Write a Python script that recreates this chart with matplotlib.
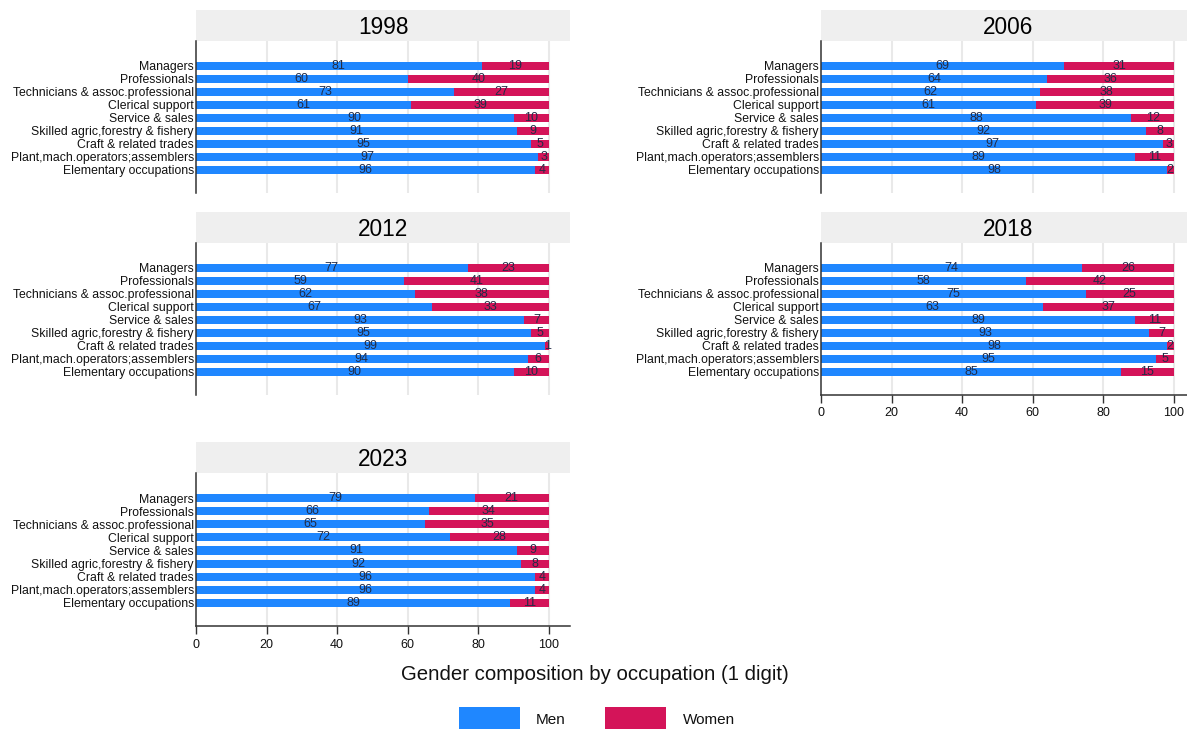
import matplotlib
matplotlib.use("Agg")
import matplotlib.pyplot as plt
from matplotlib.patches import Rectangle
import numpy as np

plt.rcParams['font.family'] = ['Liberation Sans', 'DejaVu Sans']

occupations = [
    "Managers",
    "Professionals",
    "Technicians & assoc.professional",
    "Clerical support",
    "Service & sales",
    "Skilled agric,forestry & fishery",
    "Craft & related trades",
    "Plant,mach.operators;assemblers",
    "Elementary occupations",
]

years = ["1998", "2006", "2012", "2018", "2023"]

men_1998 = [81, 60, 73, 61, 90, 91, 95, 97, 96]
women_1998 = [19, 40, 27, 39, 10, 9, 5, 3, 4]
men_2006 = [69, 64, 62, 61, 88, 92, 97, 89, 98]
women_2006 = [31, 36, 38, 39, 12, 8, 3, 11, 2]
men_2012 = [77, 59, 62, 67, 93, 95, 99, 94, 90]
women_2012 = [23, 41, 38, 33, 7, 5, 1, 6, 10]
men_2018 = [74, 58, 75, 63, 89, 93, 98, 95, 85]
women_2018 = [26, 42, 25, 37, 11, 7, 2, 5, 15]
men_2023 = [79, 66, 65, 72, 91, 92, 96, 96, 89]
women_2023 = [21, 34, 35, 28, 9, 8, 4, 4, 11]

men = [men_1998, men_2006, men_2012, men_2018, men_2023]
women = [women_1998, women_2006, women_2012, women_2018, women_2023]

x_ticks = [0, 20, 40, 60, 80, 100]

MEN_COLOR = "#1f87ff"
WOMEN_COLOR = "#d41459"
LABEL_COLOR = "#222c47"
STRIP_COLOR = "#efefef"
GRID_COLOR = "#e9e9e9"
TEXT_COLOR = "#111111"

W, H = 1187, 729
fig = plt.figure(figsize=(W / 100, H / 100), dpi=100)


def fig_rect(x0, y0, x1, y1):
    """Pixel box (top-left origin) to figure fraction [left, bottom, width, height]."""
    return [x0 / W, 1 - y1 / H, (x1 - x0) / W, (y1 - y0) / H]


# panel grid: column x-starts and (strip top, strip bottom, plot bottom) per row
col_x = [196, 821]
panel_w = 374
rows = [(10, 41, 193), (212, 243, 395), (442, 473, 626)]
layout = [
    (0, 0, False),
    (1, 0, False),
    (0, 1, False),
    (1, 1, True),
    (0, 2, True),
]

ypos = np.arange(len(occupations))

for i, (col, row, show_x) in enumerate(layout):
    x0 = col_x[col]
    s_top, s_bot, p_bot = rows[row]

    # strip with the year
    sax = fig.add_axes(fig_rect(x0, s_top, x0 + panel_w, s_bot))
    sax.set_facecolor(STRIP_COLOR)
    for sp in sax.spines.values():
        sp.set_visible(False)
    sax.set_xticks([])
    sax.set_yticks([])
    sax.text(0.5, 0.45, years[i], ha="center", va="center", fontsize=16.3,
             color="black", transform=sax.transAxes)

    ax = fig.add_axes(fig_rect(x0, s_bot, x0 + panel_w, p_bot))
    m = np.array(men[i])
    w = np.array(women[i])
    ax.barh(ypos, m, height=0.62, color=MEN_COLOR, zorder=2)
    ax.barh(ypos, w, left=m, height=0.62, color=WOMEN_COLOR, zorder=2)

    for y, mv, wv in zip(ypos, m, w):
        ax.text(mv / 2, y, f"{mv:d}", ha="center", va="center",
                fontsize=9, color=LABEL_COLOR, zorder=3)
        ax.text(mv + wv / 2, y, f"{wv:d}", ha="center", va="center",
                fontsize=9, color=LABEL_COLOR, zorder=3)

    ax.set_xlim(0, 106)
    ax.set_ylim(9.77, -1.92)
    ax.set_yticks(ypos)
    ax.set_yticklabels(occupations, fontsize=8.8, color=TEXT_COLOR)
    ax.tick_params(axis="y", length=0, pad=1.5)
    ax.set_xticks(x_ticks)
    for xv in x_ticks[1:]:
        ax.axvline(xv, color=GRID_COLOR, lw=1.5, zorder=1)

    ax.spines["top"].set_visible(False)
    ax.spines["right"].set_visible(False)
    ax.spines["left"].set_color("#333333")
    ax.spines["left"].set_linewidth(1.1)
    if show_x:
        ax.spines["bottom"].set_color("#333333")
        ax.spines["bottom"].set_linewidth(1.1)
        ax.tick_params(axis="x", length=6, width=1.0, color="#333333",
                       labelsize=9, labelcolor=TEXT_COLOR, pad=3)
        ax.set_xticklabels([str(t) for t in x_ticks])
    else:
        ax.spines["bottom"].set_visible(False)
        ax.tick_params(axis="x", length=0, labelbottom=False)

# overall caption
fig.text(595 / W, 1 - 675 / H, "Gender composition by occupation (1 digit)",
         ha="center", va="center", fontsize=14.7, color=TEXT_COLOR)

# legend
legend_items = [("Men", MEN_COLOR, 459, 536), ("Women", WOMEN_COLOR, 605, 683)]
for name, color, px, tx in legend_items:
    fig.add_artist(Rectangle((px / W, 1 - 730 / H), 61 / W, 23 / H,
                             transform=fig.transFigure, facecolor=color,
                             edgecolor="none"))
    fig.text(tx / W, 1 - 720 / H, name, ha="left", va="center",
             fontsize=11, color=TEXT_COLOR)

fig.savefig("out.png", dpi=100)
